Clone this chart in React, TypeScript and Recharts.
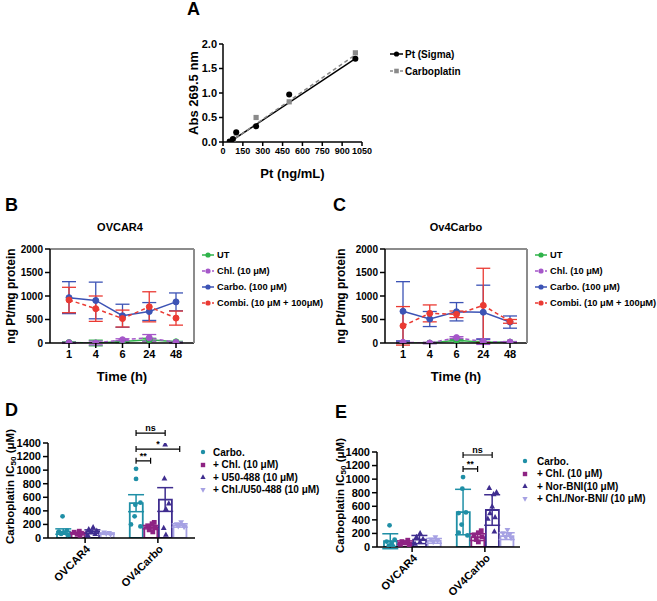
import React from 'react';
import {
  ComposedChart,
  LineChart,
  Line,
  Bar,
  Cell,
  Scatter,
  XAxis,
  YAxis,
  ErrorBar,
  ReferenceLine,
  Label,
} from 'recharts';

const FONT = '"Liberation Sans", Arial, Helvetica, sans-serif';

// ---- A: Pt standard curve
const stdConc = [50, 75, 100, 250, 500, 1000];
const ptSigmaAbs = [0.01, 0.06, 0.2, 0.32, 0.97, 1.7];
const carboStdAbs = [0.0, 0.05, 0.18, 0.5, 0.82, 1.82];
const fitConc = [50, 1000];
const ptSigmaFit = [0.0, 1.7];
const carboStdFit = [-0.01, 1.78];
const concTicks = [0, 150, 300, 450, 600, 750, 900, 1050];
const absTicks = [0, 0.5, 1, 1.5, 2];

// ---- B / C: uptake over time
const timeLabels = ['1', '4', '6', '24', '48'];
const uptakeTicks = [0, 500, 1000, 1500, 2000];
const uptakeNames = ['UT', 'Chl. (10 μM)', 'Carbo. (100 μM)', 'Combi. (10 μM + 100μM)'];
const uptakeKeys = ['ut', 'chl', 'carbo', 'combi'];
const uptakeColors = ['#2fb34a', '#a557c9', '#3c53b5', '#ea3a33'];
const uptakeDashed = [false, true, false, true];

const ovcarUT = [10, 0, 30, 70, 25];
const ovcarUTErr = [15, 60, 20, 30, 10];
const ovcarChl = [5, 0, 70, 110, 10];
const ovcarChlErr = [10, 40, 20, 70, 10];
const ovcarCarbo = [965, 905, 580, 670, 875];
const ovcarCarboErr = [340, 390, 245, 190, 190];
const ovcarCombi = [915, 730, 520, 770, 530];
const ovcarCombiErr = [270, 270, 180, 320, 150];

const ov4UT = [0, 0, 60, 15, 20];
const ov4UTErr = [10, 10, 15, 20, 10];
const ov4Chl = [15, 0, 115, 30, 20];
const ov4ChlErr = [20, 15, 20, 60, 10];
const ov4Carbo = [675, 510, 665, 655, 445];
const ov4CarboErr = [630, 160, 195, 575, 130];
const ov4Combi = [365, 630, 610, 800, 460];
const ov4CombiErr = [410, 180, 70, 790, 40];

// ---- D / E: IC50 bars (order: OVCAR4 x4 treatments, OV4Carbo x4 treatments)
const groups = ['OVCAR4', 'OV4Carbo'];
const icTicks = [0, 200, 400, 600, 800, 1000, 1200, 1400];
const barColors = ['#1f8fa6', '#8e2383', '#3f2d8f', '#a6a1e3'];
const barShapes = ['circle', 'square', 'triUp', 'triDown'];
const dNames = ['Carbo.', '+ Chl. (10 μM)', '+ U50-488 (10 μM)', '+ Chl./U50-488 (10 μM)'];
const eNames = ['Carbo.', '+ Chl. (10 μM)', '+ Nor-BNI(10 μM)', '+ Chl./Nor-BNI/ (10 μM)'];

const dMeans = [95, 70, 95, 65, 513, 160, 567, 185];
const dErrs = [40, 12, 25, 10, 125, 25, 175, 25];
// [value, horizontal offset inside the bar]
const dPoints: [number, number][][] = [
  [[320, -0.05], [110, 0.25], [95, -0.3], [80, 0.05], [60, -0.15], [45, 0.3]],
  [[100, 0.1], [85, -0.25], [70, 0.25], [55, -0.05], [40, 0.15]],
  [[160, 0.05], [130, -0.25], [110, 0.3], [85, -0.1], [60, 0.2], [40, -0.3]],
  [[80, -0.2], [70, 0.15], [60, -0.05], [50, 0.25]],
  [[1020, 0], [870, 0], [520, 0.3], [490, -0.05], [320, -0.1], [200, -0.35], [170, 0.3]],
  [[230, 0.25], [210, 0.1], [180, -0.2], [150, 0.3], [120, -0.1], [90, 0.15]],
  [[1380, 0], [880, -0.05], [510, 0.25], [430, 0.05], [150, -0.1], [50, 0.05]],
  [[230, 0.1], [200, -0.2], [185, 0.25], [170, -0.1], [160, 0.3]],
];
const dBrackets: [number, number, number, string][] = [
  [5, 7, 1546, 'ns'],
  [5, 8, 1310, '*'],
  [5, 6, 1138, '**'],
];

const eMeans = [85, 65, 110, 90, 515, 145, 545, 160];
const eErrs = [110, 25, 60, 35, 335, 50, 225, 50];
const ePoints: [number, number][][] = [
  [[320, -0.05], [110, 0.3], [80, -0.25], [60, 0.1], [20, -0.1], [10, 0.2]],
  [[100, 0.2], [80, -0.2], [60, 0.05], [40, -0.3], [30, 0.3]],
  [[205, 0.05], [150, -0.2], [120, 0.25], [75, 0.05], [50, -0.3]],
  [[140, 0.1], [110, -0.2], [90, 0.25], [70, -0.05]],
  [[1030, 0], [860, -0.05], [510, 0.2], [500, -0.3], [330, -0.1], [210, -0.3], [170, 0.3]],
  [[240, 0.25], [210, 0.05], [180, -0.25], [150, 0.3], [110, -0.1], [75, 0.05]],
  [[870, -0.2], [810, 0.3], [780, 0.1], [600, 0], [500, -0.15], [440, 0.2], [420, -0.3], [230, 0.15]],
  [[250, 0.05], [200, -0.25], [175, 0.2], [150, -0.1], [130, 0.3]],
];
const eBrackets: [number, number, number, string][] = [
  [5, 7, 1356, 'ns'],
  [5, 6, 1150, '**'],
];

const axisLine = { stroke: '#000', strokeWidth: 1.5 };
const frameLine = { stroke: '#8c8c8c', strokeWidth: 2 };
const tickFont = (size: number) => ({ fill: '#000', fontSize: size, fontWeight: 'bold' as const });

function markerEl(shape: string, cx: number, cy: number, color: string, s: number) {
  if (shape === 'circle') return <circle cx={cx} cy={cy} r={s} fill={color} />;
  if (shape === 'square') return <rect x={cx - s} y={cy - s} width={2 * s} height={2 * s} fill={color} />;
  if (shape === 'triUp')
    return <path d={`M${cx},${cy - s * 1.3}L${cx + s * 1.2},${cy + s * 0.9}L${cx - s * 1.2},${cy + s * 0.9}Z`} fill={color} />;
  return <path d={`M${cx},${cy + s * 1.3}L${cx + s * 1.2},${cy - s * 0.9}L${cx - s * 1.2},${cy - s * 0.9}Z`} fill={color} />;
}

// vertical axis title, centred on the axis box
const yTitle = (content: React.ReactNode, dx: number, size: number, dy = 0) => (props: any) => {
  const { x, y, height } = props.viewBox;
  const cx = x + dx;
  const cy = y + height / 2 + dy;
  return (
    <text x={cx} y={cy} transform={`rotate(-90 ${cx} ${cy})`} textAnchor="middle" dominantBaseline="central"
      fontSize={size} fontWeight="bold" fill="#000">
      {content}
    </text>
  );
};

interface LegendItem { label: string; color: string; shape: string; line?: boolean; dash?: boolean; size: number }

function LegendRows({ left, top, gap, items, iconW, textX, fontSize }: {
  left: number; top: number; gap: number; items: LegendItem[]; iconW: number; textX: number; fontSize: number;
}) {
  return (
    <>
      {items.map((it, i) => (
        <div key={i} style={{
          position: 'absolute', left, top: top + i * gap - 7, height: 14, display: 'flex', alignItems: 'center',
          fontSize, fontWeight: 'bold', whiteSpace: 'nowrap',
        }}>
          <svg width={iconW} height={14} style={{ marginRight: textX - iconW, flex: 'none' }}>
            {it.line && (
              <line x1={0} x2={iconW} y1={7} y2={7} stroke={it.color} strokeWidth={1.5}
                strokeDasharray={it.dash ? '3 2' : undefined} />
            )}
            {markerEl(it.shape, iconW / 2, 7, it.color, it.size)}
          </svg>
          <span>{it.label}</span>
        </div>
      ))}
    </>
  );
}

const Letter = ({ left, top, text }: { left: number; top: number; text: string }) => (
  <div style={{ position: 'absolute', left, top, fontSize: 18, fontWeight: 'bold', lineHeight: '18px' }}>{text}</div>
);

function PanelA() {
  const pts = (ys: number[]) => stdConc.map((x, i) => ({ x, y: ys[i] }));
  const fit = (ys: number[]) => fitConc.map((x, i) => ({ x, y: ys[i] }));
  return (
    <div style={{ position: 'absolute', left: 170, top: 0 }}>
      <ComposedChart width={330} height={190} margin={{ top: 44, right: 138, bottom: 0, left: 0 }}>
        <XAxis type="number" dataKey="x" domain={[0, 1050]} ticks={concTicks} interval={0} allowDataOverflow
          height={48} tick={tickFont(9)} axisLine={axisLine} tickLine={axisLine} tickSize={4}>
          <Label value="Pt (ng/mL)" position="insideBottom" offset={12} fill="#000" fontSize={13} fontWeight="bold" />
        </XAxis>
        <YAxis type="number" dataKey="y" domain={[0, 2]} ticks={absTicks} interval={0} allowDataOverflow width={53}
          tick={tickFont(11)} tickFormatter={(v: number) => v.toFixed(1)} axisLine={axisLine} tickLine={axisLine} tickSize={4}>
          <Label content={yTitle('Abs 269.5 nm', 23, 13)} />
        </YAxis>
        <Scatter data={fit(ptSigmaFit)} line={{ stroke: '#000', strokeWidth: 1.5 }} shape={() => <g />} isAnimationActive={false} />
        <Scatter data={fit(carboStdFit)} line={{ stroke: '#888', strokeWidth: 1.5, strokeDasharray: '4 3' }} shape={() => <g />} isAnimationActive={false} />
        <Scatter data={pts(carboStdAbs)} shape={(p: any) => markerEl('square', p.cx, p.cy, '#8a8a8a', 2.6)} isAnimationActive={false} />
        <Scatter data={pts(ptSigmaAbs)} shape={(p: any) => markerEl('circle', p.cx, p.cy, '#000', 3)} isAnimationActive={false} />
      </ComposedChart>
    </div>
  );
}

function UptakePanel({ left, top, width, yAxisW, plotRight, padL, padR, vals, errs }: {
  left: number; top: number; width: number; yAxisW: number; plotRight: number; padL: number; padR: number;
  vals: number[][]; errs: number[][];
}) {
  const rows = timeLabels.map((t, i) => {
    const r: Record<string, number | string> = { t };
    uptakeKeys.forEach((k, s) => {
      r[k] = vals[s][i];
      r[k + 'E'] = errs[s][i];
    });
    return r;
  });
  return (
    <div style={{ position: 'absolute', left, top }}>
      <LineChart width={width} height={200} data={rows}
        margin={{ top: 58, right: width - (plotRight - left) - 1, bottom: 0, left: 0 }}>
        <XAxis dataKey="t" padding={{ left: padL, right: padR }} height={47} interval={0} tick={tickFont(11)}
          axisLine={axisLine} tickLine={axisLine} tickSize={5}>
          <Label value="Time (h)" position="insideBottom" offset={9} fill="#000" fontSize={13} fontWeight="bold" />
        </XAxis>
        {/* grey frame on top and right */}
        <XAxis xAxisId="top" dataKey="t" orientation="top" height={1} tick={false} tickLine={false} axisLine={frameLine} />
        <YAxis yAxisId="right" orientation="right" width={1} domain={[0, 1]} tick={false} tickLine={false} axisLine={frameLine} />
        <YAxis type="number" domain={[0, 2000]} ticks={uptakeTicks} interval={0} allowDataOverflow width={yAxisW}
          tick={tickFont(10)} axisLine={axisLine} tickLine={axisLine} tickSize={5}>
          <Label content={yTitle('ng Pt/mg protein', 11, 12)} />
        </YAxis>
        {uptakeKeys.map((k, s) => (
          <Line key={k} dataKey={k} stroke={uptakeColors[s]} strokeWidth={1.5}
            strokeDasharray={uptakeDashed[s] ? '4 3' : undefined}
            dot={{ r: 3, fill: uptakeColors[s], stroke: uptakeColors[s], strokeWidth: 1, strokeDasharray: '' }}
            isAnimationActive={false}>
            <ErrorBar dataKey={k + 'E'} direction="y" width={7} stroke={uptakeColors[s]} strokeWidth={1.3} />
          </Line>
        ))}
      </LineChart>
    </div>
  );
}

const bracketShape = (text: string) => (p: any) => {
  const { x1, x2, y1 } = p;
  return (
    <g>
      <path d={`M${x1},${y1 - 3}V${y1 + 3}M${x1},${y1}H${x2}M${x2},${y1 - 3}V${y1 + 3}`} stroke="#000" strokeWidth={1.2} fill="none" />
      <text x={(x1 + x2) / 2} y={y1 - 2} textAnchor="middle" fontSize={9} fontWeight="bold" fill="#000">{text}</text>
    </g>
  );
};

const groupTick = (p: any) => {
  const { x, y, payload } = p;
  return (
    <g transform={`translate(${x + 3},${y + 2}) rotate(-45)`}>
      <text x={0} y={0} textAnchor="end" dominantBaseline="central" fontSize={11} fontWeight="bold" fill="#000">
        {groups[payload.value < 4 ? 0 : 1]}
      </text>
    </g>
  );
};

function BarPanel({ left, top, width, yAxisW, plotTop, plotBottom, plotRight, padX, means, errs, points, brackets }: {
  left: number; top: number; width: number; yAxisW: number; plotTop: number; plotBottom: number; plotRight: number;
  padX: number; means: number[]; errs: number[]; points: [number, number][][]; brackets: [number, number, number, string][];
}) {
  const height = 201;
  const slots = [0, 1, 2, 3, 4, 5, 6, 7, 8];
  const rows = slots.map((s) => {
    const g = s < 4 ? 0 : 1;
    const k = s % 5;
    return { slot: 's' + s, k, mean: s === 4 ? null : means[g * 4 + k] };
  });
  return (
    <div style={{ position: 'absolute', left, top }}>
      <ComposedChart width={width} height={height} data={rows}
        margin={{ top: plotTop - top, right: width - (plotRight - left), bottom: 0, left: 0 }}>
        <XAxis xAxisId="num" type="number" dataKey="x" domain={[-0.5, 8.5]} allowDataOverflow ticks={[1.5, 6.5]}
          interval={0} padding={{ left: padX, right: padX }} height={top + height - plotBottom}
          tick={groupTick} axisLine={axisLine} tickLine={axisLine} tickSize={5} />
        <XAxis xAxisId="cat" dataKey="slot" type="category" hide height={0} padding={{ left: padX, right: padX }} />
        <YAxis type="number" dataKey="y" domain={[0, 1400]} ticks={icTicks} interval={0} allowDataOverflow width={yAxisW}
          tick={tickFont(11)} axisLine={axisLine} tickLine={axisLine} tickSize={5}>
          <Label content={yTitle(
            <>Carboplatin IC<tspan fontSize={8} dy={3}>50</tspan><tspan dy={-3}> (μM)</tspan></>, 10, 11.5, -4)} />
        </YAxis>
        <Bar xAxisId="cat" dataKey="mean" barSize={13} fill="#fff" strokeWidth={1.8} isAnimationActive={false}>
          {rows.map((r, i) => (
            <Cell key={i} stroke={barColors[r.k] || '#fff'} />
          ))}
        </Bar>
        {barColors.map((c, k) => (
          <Scatter key={'e' + k} xAxisId="num" isAnimationActive={false} shape={() => <g />}
            data={[0, 1].map((g) => ({ x: g * 5 + k, y: means[g * 4 + k], e: errs[g * 4 + k] }))}>
            <ErrorBar dataKey="e" direction="y" width={8} stroke={c} strokeWidth={1.5} />
          </Scatter>
        ))}
        {barColors.map((c, k) => (
          <Scatter key={'p' + k} xAxisId="num" isAnimationActive={false}
            data={[0, 1].flatMap((g) => points[g * 4 + k].map(([v, dx]) => ({ x: g * 5 + k + dx, y: v })))}
            shape={(p: any) => markerEl(barShapes[k], p.cx, p.cy, c, 2.4)} />
        ))}
        {brackets.map(([a, b, y, t], i) => (
          <ReferenceLine key={i} xAxisId="num" ifOverflow="visible" segment={[{ x: a, y }, { x: b, y }]} shape={bracketShape(t)} />
        ))}
      </ComposedChart>
    </div>
  );
}

const uptakeLegend: LegendItem[] = uptakeNames.map((label, s) => ({
  label, color: uptakeColors[s], shape: 'circle', line: true, dash: uptakeDashed[s], size: 2.6,
}));
const barLegend = (names: string[]): LegendItem[] =>
  names.map((label, k) => ({ label, color: barColors[k], shape: barShapes[k], size: 2.2 }));

export default function App() {
  return (
    <div style={{ position: 'absolute', left: 0, top: 0, width: 657, height: 601, background: '#fff', fontFamily: FONT, color: '#000', overflow: 'hidden' }}>
      <Letter left={187} top={0} text="A" />
      <PanelA />
      <LegendRows left={390} top={54} gap={17} iconW={13} textX={15} fontSize={10}
        items={[
          { label: 'Pt (Sigma)', color: '#000', shape: 'circle', line: true, size: 2.6 },
          { label: 'Carboplatin', color: '#8a8a8a', shape: 'square', line: true, dash: true, size: 2.3 },
        ]} />

      <Letter left={5} top={196} text="B" />
      <div style={{ position: 'absolute', left: 70, width: 100, top: 221, textAlign: 'center', fontSize: 11, fontWeight: 'bold' }}>OVCAR4</div>
      <UptakePanel left={0} top={190} width={330} yAxisW={50} plotRight={194} padL={19} padR={18}
        vals={[ovcarUT, ovcarChl, ovcarCarbo, ovcarCombi]} errs={[ovcarUTErr, ovcarChlErr, ovcarCarboErr, ovcarCombiErr]} />
      <LegendRows left={202} top={255} gap={16} iconW={12} textX={15} fontSize={9.3} items={uptakeLegend} />

      <Letter left={333} top={196} text="C" />
      <div style={{ position: 'absolute', left: 406, width: 100, top: 221, textAlign: 'center', fontSize: 11, fontWeight: 'bold' }}>Ov4Carbo</div>
      <UptakePanel left={330} top={190} width={327} yAxisW={55} plotRight={527} padL={18} padR={17}
        vals={[ov4UT, ov4Chl, ov4Carbo, ov4Combi]} errs={[ov4UTErr, ov4ChlErr, ov4CarboErr, ov4CombiErr]} />
      <LegendRows left={535} top={255} gap={16} iconW={12} textX={15} fontSize={9.3} items={uptakeLegend} />

      <Letter left={5} top={401} text="D" />
      <BarPanel left={0} top={400} width={330} yAxisW={48} plotTop={443} plotBottom={538} plotRight={195} padX={8}
        means={dMeans} errs={dErrs} points={dPoints} brackets={dBrackets} />
      <LegendRows left={199} top={452} gap={12.5} iconW={8} textX={14} fontSize={10} items={barLegend(dNames)} />

      <Letter left={335} top={403} text="E" />
      <BarPanel left={330} top={400} width={327} yAxisW={47} plotTop={452} plotBottom={547} plotRight={520} padX={6}
        means={eMeans} errs={eErrs} points={ePoints} brackets={eBrackets} />
      <LegendRows left={521} top={461} gap={12.6} iconW={8} textX={16} fontSize={10} items={barLegend(eNames)} />
    </div>
  );
}
